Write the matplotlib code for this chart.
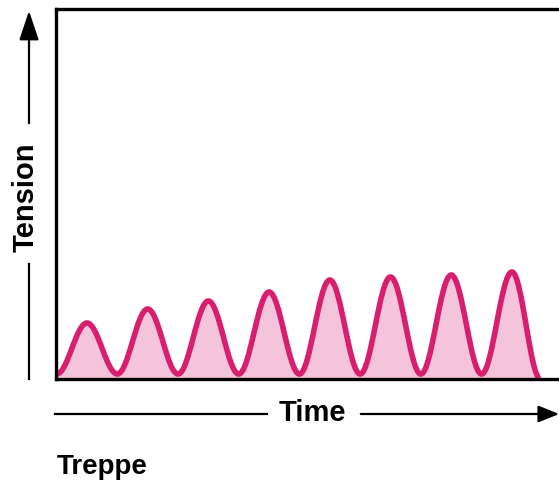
import numpy as np
import matplotlib
matplotlib.use("Agg")
import matplotlib.pyplot as plt
from matplotlib.path import Path
from matplotlib.patches import PathPatch, FancyArrowPatch

plt.rcParams['font.family'] = ['Liberation Sans', 'DejaVu Sans']

# twitch peaks (time index) and their tension
peak_times = [1, 2, 3, 4, 5, 6, 7, 8]
peak_tension = [56, 70, 78, 87, 99, 102, 104, 107]
trough_tension = 5
start_time, end_time = 0.5, 8.47
title = "Treppe"
xlabel = "Time"
ylabel = "Tension"

line_col = '#d81e6e'
fill_col = '#f4c5da'

W, H = 559, 485
fig = plt.figure(figsize=(W / 100, H / 100), dpi=100)

# main axes: left edge 56px, baseline 380px, top 10px
px = 60.7
x0 = 1 - 31 / px
ax = fig.add_axes([56 / W, 105 / H, 503 / W, 370 / H])
ax.set_xlim(x0, x0 + 503 / px)
ax.set_ylim(0, 370)
ax.set_xticks([])
ax.set_yticks([])
ax.spines['right'].set_visible(False)
for s in ['left', 'top', 'bottom']:
    ax.spines[s].set_linewidth(2.4)
    ax.spines[s].set_color('black')

# key points: trough, peak, trough, ..., last peak, down to baseline
keys = [(start_time, trough_tension)]
for i, (t, h) in enumerate(zip(peak_times, peak_tension)):
    keys.append((t, h))
    if i < len(peak_times) - 1:
        keys.append((t + 0.5, trough_tension))
keys.append((end_time, 0))

verts = [keys[0]]
codes = [Path.MOVETO]
k = 0.364
for (xa, ya), (xb, yb) in zip(keys[:-1], keys[1:]):
    d = (xb - xa) * k
    verts += [(xa + d, ya), (xb - d, yb), (xb, yb)]
    codes += [Path.CURVE4] * 3

fill_verts = verts + [(end_time, 0), (start_time, 0), keys[0]]
fill_codes = codes + [Path.LINETO, Path.LINETO, Path.CLOSEPOLY]
ax.add_patch(PathPatch(Path(fill_verts, fill_codes), facecolor=fill_col,
                       edgecolor='none', zorder=1))
ax.add_patch(PathPatch(Path(verts, codes), facecolor='none',
                       edgecolor=line_col, lw=4.0, capstyle='butt', zorder=2))

# overlay in pixel coordinates for the arrows and labels
ov = fig.add_axes([0, 0, 1, 1], facecolor='none')
ov.set_xlim(0, W)
ov.set_ylim(H, 0)
ov.axis('off')

ov.text(26, 197, ylabel, rotation=90, ha='center', va='center',
        fontsize=21, fontweight='bold')
ov.plot([29, 29], [265, 380], color='black', lw=1.6)
ov.add_patch(FancyArrowPatch((29, 127), (29, 9), arrowstyle='-|>,head_length=1.2,head_width=0.4',
                             mutation_scale=15, color='black', lw=1.6))

ov.text(312, 413, xlabel, ha='center', va='center',
        fontsize=21, fontweight='bold')
ov.plot([55, 267], [415, 415], color='black', lw=1.6)
ov.add_patch(FancyArrowPatch((358, 415), (562, 415), arrowstyle='-|>,head_length=0.85,head_width=0.34',
                             mutation_scale=15, color='black', lw=1.6))

ov.text(57, 467, title, ha='left', va='center', fontsize=20, fontweight='bold')

fig.savefig('out.png', dpi=100)
